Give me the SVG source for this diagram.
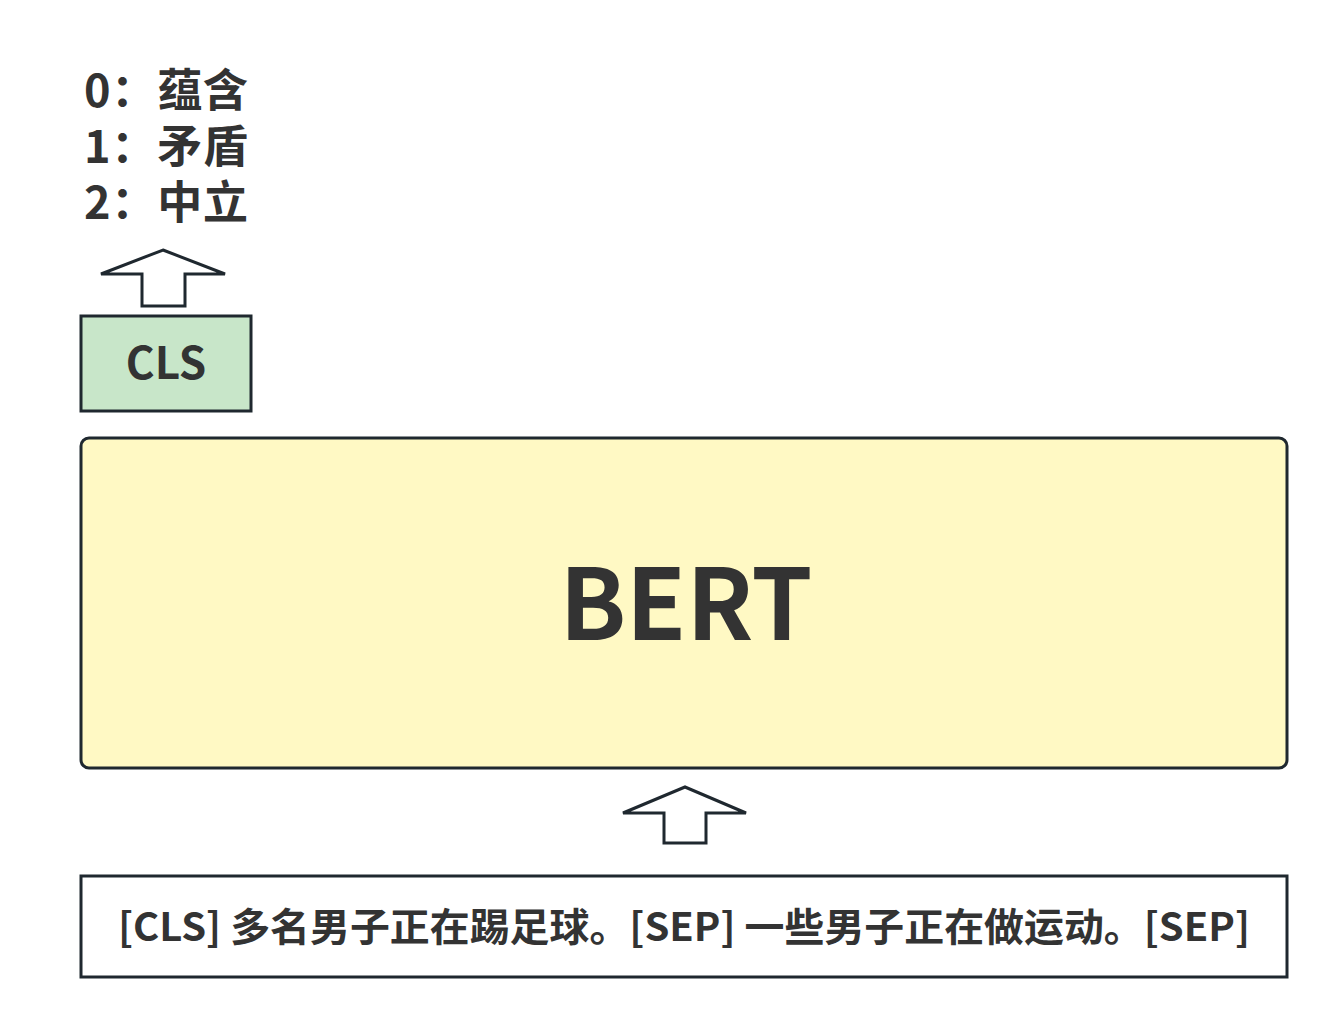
<svg xmlns="http://www.w3.org/2000/svg" width="1337" height="1028" viewBox="0 0 1337 1028">
<style>
.t{font-family:"Noto Sans CJK SC","Noto Sans",sans-serif;font-weight:bold;fill:#333333}
.box{stroke:#1f282f;stroke-width:3}
.arrow{fill:#ffffff;stroke:#1f282f;stroke-width:3;stroke-linejoin:miter}
</style>
<rect width="1337" height="1028" fill="#ffffff"/>
<g id="labels">
<text class="t" x="84" y="107" font-size="45" textLength="164">0：蕴含</text>
<text class="t" x="84" y="163" font-size="45" textLength="164">1：矛盾</text>
<text class="t" x="84" y="219" font-size="45" textLength="164">2：中立</text>
</g>
<g id="cls">
<rect class="box" x="81" y="316" width="170" height="95" fill="#c8e6c9"/>
<text class="t" x="166" y="379" font-size="44" text-anchor="middle">CLS</text>
</g>
<g id="bert">
<rect class="box" x="81" y="438" width="1206" height="330" rx="8" fill="#fff9c4"/>
<text class="t" x="686" y="640" font-size="98" text-anchor="middle">BERT</text>
</g>
<g id="input">
<rect class="box" x="81" y="876" width="1206" height="101" fill="#ffffff"/>
<text class="t" x="118" y="941" font-size="39" textLength="1132" lengthAdjust="spacingAndGlyphs">[CLS] 多名男子正在踢足球。[SEP] 一些男子正在做运动。[SEP]</text>
</g>
<g id="connectors">
<polygon class="arrow" points="163,250 225,274 185,274 185,306 142,306 142,274 101,274"/>
<polygon class="arrow" points="685,787 746,813 706,813 706,843 664,843 664,813 623,813"/>
</g>
</svg>
